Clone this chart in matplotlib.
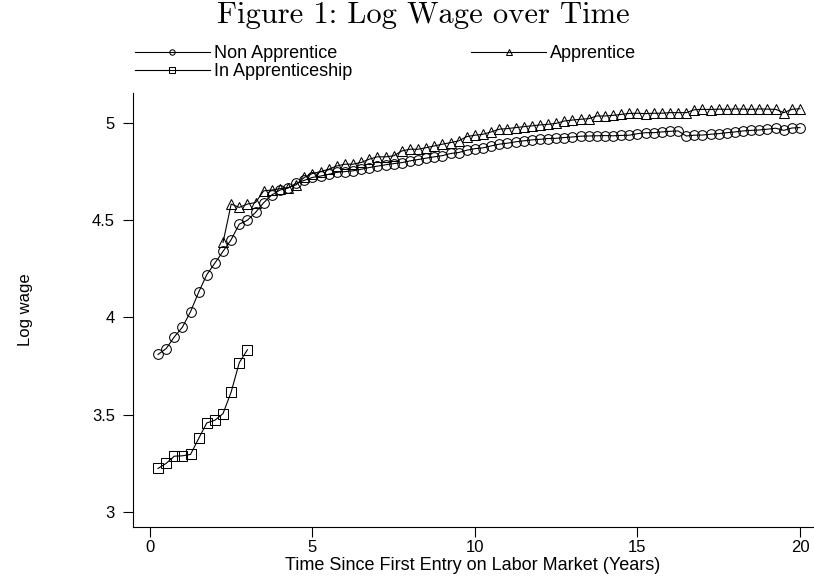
import numpy as np
import matplotlib
matplotlib.use("Agg")
import matplotlib.pyplot as plt

plt.rcParams['font.family'] = ['Liberation Sans', 'DejaVu Sans']

# quarterly time grid, years since first entry
years_all = np.arange(1, 81) * 0.25          # 0.25 .. 20.0
years_app = np.arange(9, 81) * 0.25          # 2.25 .. 20.0
years_in = np.arange(1, 13) * 0.25           # 0.25 .. 3.0

non_apprentice = [
    3.81, 3.84, 3.90, 3.95, 4.03, 4.13, 4.22, 4.28, 4.34, 4.40,
    4.48, 4.50, 4.54, 4.59, 4.63, 4.655, 4.665, 4.69, 4.705,
    4.72, 4.727, 4.736, 4.746, 4.75, 4.754, 4.762, 4.771, 4.778, 4.785,
    4.791, 4.796, 4.805, 4.812, 4.819, 4.826, 4.832, 4.843, 4.848, 4.86,
    4.868, 4.872, 4.882, 4.891, 4.896, 4.903, 4.908, 4.913, 4.916, 4.920,
    4.921, 4.925, 4.928, 4.932, 4.933, 4.934, 4.935, 4.934, 4.936, 4.937,
    4.945, 4.95, 4.95, 4.954, 4.957, 4.959, 4.933, 4.937, 4.938, 4.942,
    4.945, 4.95, 4.954, 4.959, 4.962, 4.964, 4.968, 4.973, 4.962, 4.974,
    4.976,
]

apprentice = [
    4.386, 4.583, 4.566, 4.583, 4.591, 4.651, 4.655, 4.662, 4.668, 4.682,
    4.72,
    4.74, 4.75, 4.762, 4.779, 4.788, 4.788, 4.797, 4.814, 4.826, 4.826,
    4.831, 4.856, 4.865, 4.865, 4.873, 4.882, 4.891, 4.899, 4.908, 4.93,
    4.937, 4.942, 4.954, 4.968, 4.971, 4.976, 4.981, 4.985, 4.990, 4.993,
    4.998, 5.010, 5.015, 5.019, 5.022, 5.036, 5.036, 5.039, 5.044, 5.049,
    5.05, 5.048, 5.05, 5.05, 5.053, 5.053, 5.053, 5.068, 5.070, 5.069,
    5.071, 5.070, 5.072, 5.071, 5.070, 5.072, 5.071, 5.070, 5.053, 5.070,
    5.073,
]

in_apprenticeship = [
    3.224, 3.250, 3.287, 3.289, 3.296, 3.378,
    3.458, 3.472, 3.506, 3.617, 3.768, 3.834,
]

labels = ['Non Apprentice', 'Apprentice', 'In Apprenticeship']

fig = plt.figure(figsize=(8.14, 5.76), dpi=100)
ax = fig.add_axes([133 / 814, 49 / 576, 680 / 814, 434 / 576])

style = dict(color='black', lw=0.8, markersize=7, markerfacecolor='none',
             markeredgecolor='black', markeredgewidth=0.75)
h_non, = ax.plot(years_all, non_apprentice, marker='o', label=labels[0], **style)
h_app, = ax.plot(years_app, apprentice, marker='^', label=labels[1], **style)
h_in, = ax.plot(years_in, in_apprenticeship, marker='s', label=labels[2], **style)

ax.set_xlim(-0.52, 20.4)
ax.set_ylim(2.923, 5.154)
ax.set_xticks([0, 5, 10, 15, 20])
ax.set_yticks([3, 3.5, 4, 4.5, 5])
ax.set_yticklabels(['3', '3.5', '4', '4.5', '5'])

for side in ('top', 'right'):
    ax.spines[side].set_visible(False)
for side in ('left', 'bottom'):
    ax.spines[side].set_linewidth(0.8)

ax.tick_params(axis='x', length=7, width=0.8, pad=2, labelsize=12)
ax.tick_params(axis='y', length=7, width=0.8, pad=6, labelsize=12)

ax.set_xlabel('Time Since First Entry on Labor Market (Years)', fontsize=13, labelpad=2)
ax.set_ylabel('Log wage', fontsize=12)
ax.yaxis.set_label_coords(-0.147, 0.5)

fig.text(423 / 814, 1 - 15 / 576, 'Figure 1: Log Wage over Time',
         family='cmr10', fontsize=22, ha='center', va='center')

fig.legend([h_non, h_in, h_app], [labels[0], labels[2], labels[1]],
           ncol=2, loc='upper left', bbox_to_anchor=(135 / 814, 1 - 45 / 576),
           frameon=False, fontsize=13, handlelength=4.15, handletextpad=0.22,
           columnspacing=6.6, labelspacing=0.05, borderpad=0, borderaxespad=0,
           markerscale=0.55, numpoints=1)

fig.savefig('out.png', dpi=100)
